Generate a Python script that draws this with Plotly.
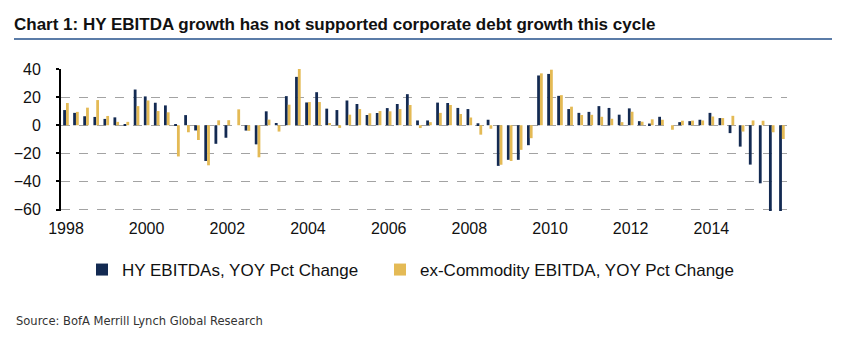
import pandas as pd
import plotly.graph_objects as go

# Quarterly observations, 1998Q1 - 2015Q4
quarters = pd.period_range("1998Q1", "2015Q4", freq="Q")
quarter_starts = quarters.to_timestamp().strftime("%Y-%m-%d").tolist()

# YoY % change in high-yield EBITDA (all issuers)
hy_ebitda_yoy = [
    10.8, 8.8, 6.4, 5.9, 4.5, 5.6, 0.7, 25.4,        # 1998-1999
    20.5, 16.0, 14.1, 0.4, 7.2, -3.7, -25.4, -13.2,  # 2000-2001
    -8.9, 0.0, -3.8, -13.6, 9.9, 1.6, 20.7, 34.4,    # 2002-2003
    16.2, 23.5, 11.8, 10.8, 17.6, 15.1, 7.3, 8.7,    # 2004-2005
    12.2, 15.1, 22.1, 3.4, 3.4, 16.1, 15.8, 12.3,    # 2006-2007
    11.5, 1.4, 3.9, -28.9, -24.6, -24.6, -14.2, 35.4,  # 2008-2009
    36.5, 20.9, 11.5, 8.8, 9.5, 13.6, 12.3, 7.5,     # 2010-2011
    12.0, 2.9, 1.2, 6.0, 0.0, 2.2, 2.9, 3.9,         # 2012-2013
    8.8, 5.1, -5.6, -15.2, -28.0, -41.3, -61.0, -61.0,  # 2014-2015
]

# YoY % change in EBITDA excluding commodity issuers
ex_commodity_yoy = [
    15.8, 9.5, 12.5, 17.9, 6.6, 2.4, 2.4, 13.6,
    17.6, 10.1, 9.2, -22.2, -5.0, -10.5, -28.5, 3.5,
    3.6, 11.3, -4.0, -22.8, 4.0, -4.5, 14.6, 40.0,
    16.5, 16.5, 1.6, -1.9, 7.5, 11.5, 8.5, 10.1,
    9.9, 11.5, 14.4, -2.0, 2.2, 8.8, 14.4, 8.0,
    5.5, -6.7, -2.5, -28.1, -25.4, -17.5, -9.2, 36.9,
    39.5, 21.4, 13.2, 7.3, 7.4, 6.0, 4.6, 2.2,
    9.6, 2.5, 4.2, 3.9, -3.2, 3.2, 3.3, 3.4,
    6.2, 5.1, 6.7, -4.5, 3.4, 3.2, -5.0, -9.8,
]

series_names = ["HY EBITDAs, YOY Pct Change", "ex-Commodity EBITDA, YOY Pct Change"]
y_ticks = [-60, -40, -20, 0, 20, 40]
y_range = [-61, 40]
x_range = ["1998-01-01", "2016-01-01"]
year_labels = [str(y) for y in range(1998, 2015, 2)]
year_ticks = [f"{y}-01-01" for y in range(1998, 2017, 2)]

NAVY = "#132a52"
GOLD = "#e4ba55"
FONT = "Liberation Sans, Arial, sans-serif"
CONDENSED = "DejaVu Sans Condensed, Liberation Sans, sans-serif"

W, H = 843, 340
ML, MR, MT, MB = 61, 56, 69, 129
plot_w = W - ML - MR
plot_h = H - MT - MB


def px_x(px):
    return (px - ML) / plot_w


def px_y(py):
    return (H - MB - py) / plot_h


zero_pos = (0 - y_range[0]) / (y_range[1] - y_range[0])

fig = go.Figure()
for vals, name, color, leg in [(hy_ebitda_yoy, series_names[0], NAVY, "legend"),
                               (ex_commodity_yoy, series_names[1], GOLD, "legend2")]:
    fig.add_bar(
        x=quarter_starts, y=vals, name=name, legend=leg,
        marker=dict(color=color, line=dict(width=0)),
        xperiod="M3", xperiodalignment="middle",
    )

legend_common = dict(
    orientation="h", xanchor="left", yanchor="middle", y=px_y(270),
    font=dict(size=17, color="#111111"), itemwidth=30,
    bgcolor="rgba(0,0,0,0)",
)

fig.update_layout(
    width=W, height=H,
    margin=dict(l=ML, r=MR, t=MT, b=MB, pad=0),
    paper_bgcolor="white", plot_bgcolor="white",
    barmode="group", bargap=0.44, bargroupgap=0,
    font=dict(family=FONT, color="#111111"),
    title=dict(
        text="<b>Chart 1: HY EBITDA growth has not supported corporate debt growth this cycle</b>",
        font=dict(family=FONT, size=17, color="#111111"),
        xref="container", yref="container",
        x=14 / W, xanchor="left", y=1 - 24 / H, yanchor="middle",
    ),
    xaxis=dict(
        type="date", range=x_range,
        tickvals=year_ticks[:-1], ticktext=year_labels,
        showgrid=False, showline=False, ticks="", zeroline=False,
        tickfont=dict(size=16, color="#111111"),
        ticklabelshift=5, ticklabelstandoff=6,
    ),
    xaxis2=dict(
        type="date", matches="x", overlaying="x",
        anchor="free", position=zero_pos,
        tickvals=year_ticks,
        showgrid=False, showticklabels=False, zeroline=False,
        showline=True, linecolor="black", linewidth=2,
        ticks="outside", ticklen=5, tickwidth=1.5, tickcolor="black",
    ),
    yaxis=dict(
        range=y_range, tickvals=y_ticks,
        showline=True, linecolor="black", linewidth=2,
        ticks="outside", ticklen=3, tickcolor="black", tickwidth=1.5,
        showgrid=True, gridcolor="#a3a3a3", griddash="dash", gridwidth=1,
        zeroline=False,
        tickfont=dict(size=16, color="#111111"),
        ticklabelstandoff=12,
    ),
    legend=dict(x=px_x(82), **legend_common),
    legend2=dict(x=px_x(380), **legend_common),
    showlegend=True,
)

# rule under the title
fig.add_shape(
    type="line", xref="paper", yref="paper",
    x0=px_x(14), x1=px_x(832), y0=px_y(39), y1=px_y(39),
    line=dict(color="#5b7ca8", width=2),
)

fig.add_annotation(
    text="Source: BofA Merrill Lynch Global Research",
    xref="paper", yref="paper", x=px_x(14), y=px_y(320),
    xanchor="left", yanchor="middle", showarrow=False,
    font=dict(family=CONDENSED, size=12.8, color="#333333"),
)

fig.write_html("out.html")
